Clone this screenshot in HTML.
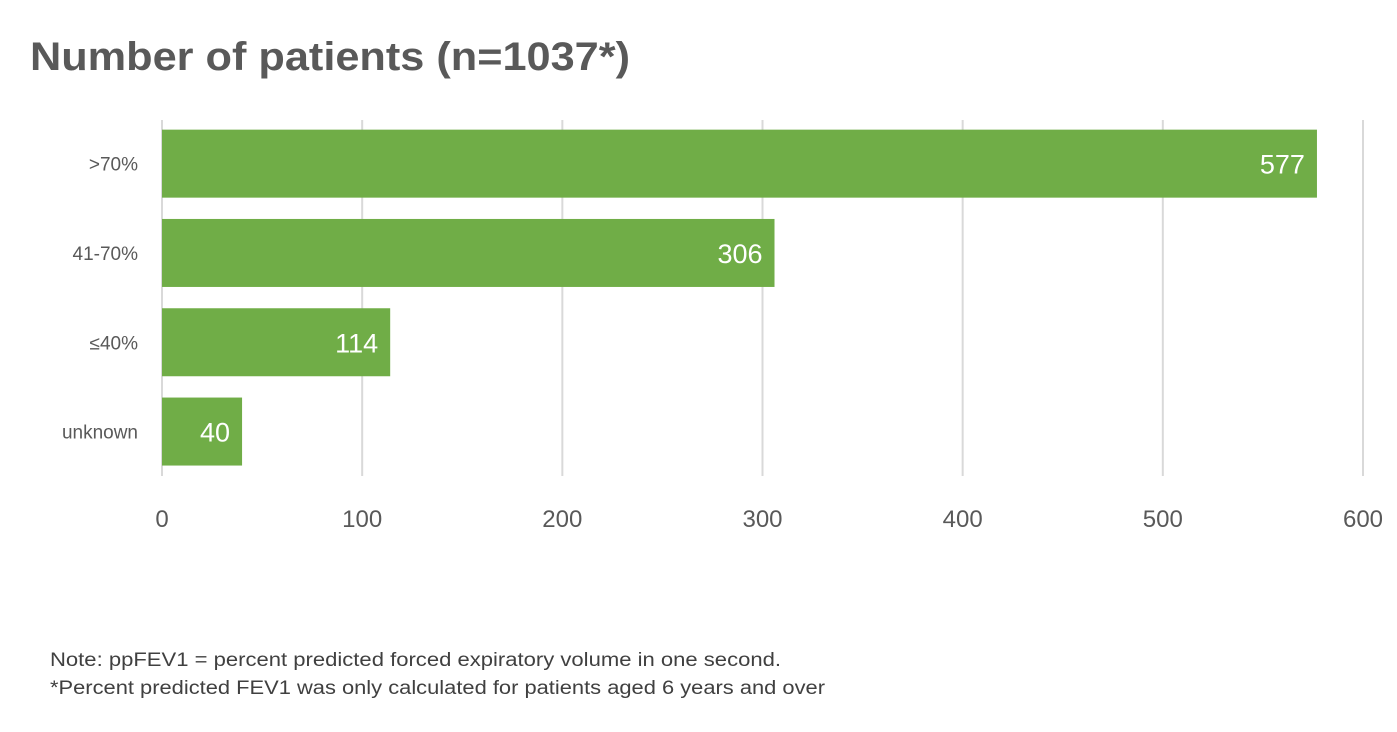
<!DOCTYPE html>
<html><head><meta charset="utf-8">
<style>
body{margin:0;background:#fff;width:1397px;height:727px;overflow:hidden;font-family:"Liberation Sans",sans-serif;}
svg text{font-family:"Liberation Sans",sans-serif;}
</style></head>
<body>
<svg width="1397" height="727">
<text x="30" y="70" font-size="40" font-weight="bold" fill="#595959" textLength="600" lengthAdjust="spacingAndGlyphs">Number of patients (n=1037*)</text>
<g id="grid"></g>
<g id="bars"></g>
<text x="50" y="666" font-size="19" fill="#404040" textLength="731" lengthAdjust="spacingAndGlyphs">Note: ppFEV1 = percent predicted forced expiratory volume in one second.</text>
<text x="50" y="694" font-size="19" fill="#404040" textLength="775" lengthAdjust="spacingAndGlyphs">*Percent predicted FEV1 was only calculated for patients aged 6 years and over</text>
</svg>
<script>
const categories=[">70%","41-70%","≤40%","unknown"];
const values=[577,306,114,40];
const ticks=[0,100,200,300,400,500,600];
const NS="http://www.w3.org/2000/svg";
const x0=162,x1=1363,xMax=600;
const xs=v=>x0+(x1-x0)*v/xMax;
const bandTop=119,bandH=89.3;
const g=document.getElementById('grid'),b=document.getElementById('bars');
function mk(t,a,p){const e=document.createElementNS(NS,t);for(const k in a)e.setAttribute(k,a[k]);p.appendChild(e);return e;}
ticks.forEach(t=>{
const l=mk('line',{x1:xs(t),x2:xs(t),y1:120,y2:476,stroke:'#d9d9d9','stroke-width':2},g);


const tx=mk('text',{x:xs(t),y:527,'font-size':24,fill:'#595959','text-anchor':'middle'},g);
tx.textContent=t;


});
categories.forEach((c,i)=>{
const yc=bandTop+bandH*(i+0.5);
const r=mk('rect',{x:x0,y:yc-34,width:xs(values[i])-x0,height:68,fill:'#70ad47'},b);


const v=mk('text',{x:xs(values[i])-12,y:yc+10,'font-size':27,fill:'#fff','text-anchor':'end'},b);
v.textContent=values[i];


const cl=mk('text',{x:138,y:yc+7,'font-size':19,fill:'#595959','text-anchor':'end'},b);
cl.textContent=c;


});
</script>
</body></html>
